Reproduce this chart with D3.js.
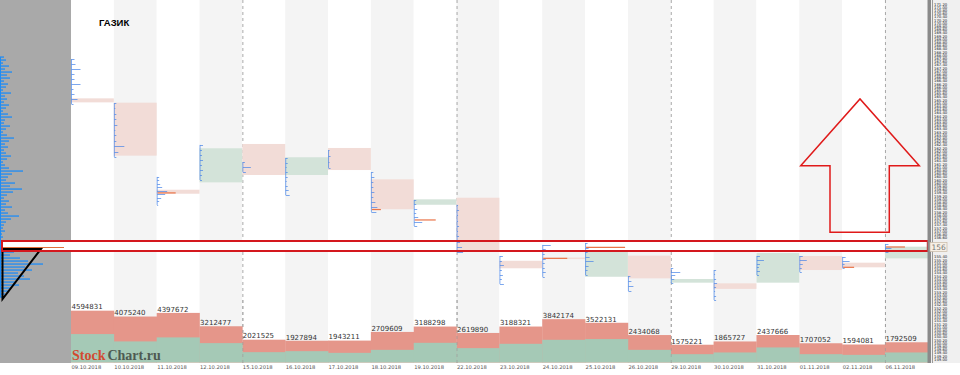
<!DOCTYPE html>
<html><head><meta charset="utf-8">
<script src="https://cdn.jsdelivr.net/npm/d3@7/dist/d3.min.js"></script>
<style>body{margin:0;background:#fff}svg{display:block}</style>
</head><body><svg id="c" width="960" height="375"></svg>
<script>
const dates = ["09.10.2018","10.10.2018","11.10.2018","12.10.2018","15.10.2018","16.10.2018","17.10.2018","18.10.2018","19.10.2018","22.10.2018","23.10.2018","24.10.2018","25.10.2018","26.10.2018","29.10.2018","30.10.2018","31.10.2018","01.11.2018","02.11.2018","06.11.2018"];
const volTotal = [4594831,4075240,4397672,3212477,2021525,1927894,1943211,2709609,3188298,2619890,3188321,3842174,3522131,2434068,1575221,1865727,2437666,1707052,1594081,1792509];
const volBuy = [2520000,1870000,2226000,1719000,917000,1006000,855000,1122000,1745000,1273000,1656000,2012000,2075000,1122000,739000,890000,1336000,739000,677000,890000];
const openP  = [165.29,165.02,159.58,160.04,162.44,160.50,162.19,160.23,158.64,159.08,155.14,155.34,154.14,155.46,153.77,153.73,153.77,155.44,155.02,155.29];
const closeP = [165.04,161.71,159.33,162.17,160.50,161.61,160.81,158.36,158.98,155.81,154.67,155.25,155.71,154.04,154.00,153.38,155.64,154.56,154.73,156.02];
const profHi = [167.75,165.00,160.38,162.38,161.31,161.56,162.06,160.69,158.94,158.63,155.44,156.13,156.25,154.19,154.69,154.56,155.44,155.44,155.38,156.19];
const profLo = [164.94,161.63,158.63,160.19,160.69,159.25,160.94,158.19,157.31,155.69,153.69,154.13,154.25,153.25,153.75,152.69,154.25,154.44,154.69,155.69];
const profVol = [
 [3,4,9,3,3,9,2,3,6,2],[2,1,2,2,3,1,2,2,10,4,2],[2,2,3,5,10,8,4,2,1],[3,2,2,3,2,3,2,2],[2,8,3],
 [2,2,1,2,2,1,2,3,4],[1,2,1,2],[2,3,2,2,3,2,4,6,5],[2,2,3,2,4,8,3],[1,2,1,1,2,1,2,3,5,6],
 [3,2,4,2,3,2,4],[8,3,2,3,2,2,3,2],[2,3,2,4,8,3,2,2],[2,3,5,3],[2,9,4,3,2],
 [2,1,2,3,2,1,2,2],[3,7,3,2,3,2],[3,7,3,2,2],[3,7,2,2],[3,6,3]];
const pocDay = [2,7,8,11,12,18,19];
const pocPrice = [159.38,158.34,157.69,155.29,155.98,154.73,156.0];
const pocVol = [18,9,21,24,39,11,19];
const leftHi = 167.875, leftLo = 152.875;
const leftVol = [4,6,3,9,5,12,7,10,4,8,6,3,11,5,7,4,9,6,3,8,12,5,4,10,6,3,7,14,9,5,8,4,6,11,7,3,5,9,23,12,8,6,15,10,22,13,7,4,9,6,12,5,8,19,11,6,4,3,5,2,3,0,0,0,0,14,10,20,28,43,25,32,18,24,30,15,19,11,8,5,2];
const leftPoc = 155.97, leftPocVol = 61;
const title = "ГАЗИК";
const lastPrice = "156";

const svg = d3.select("#c");
const plotL = 71, plotR = 927.8, plotBottom = 363;
const x = d3.scaleBand().domain(dates).range([plotL, plotR]).padding(0);
const yP = d3.scaleLinear().domain([148.75, 171.4375]).range([363, 0]);
const yV = d3.scaleLinear().domain([0, 5000000]).range([362.5, 306.1]);
const xProf = d3.scaleLinear().domain([0, 10]).range([0, 10]);
const xLeft = d3.scaleLinear().domain([0, 10]).range([0, 10]);

// column backgrounds
svg.append("g").selectAll("rect").data(dates).join("rect")
  .attr("x", d => x(d)).attr("y", 0).attr("width", x.bandwidth()).attr("height", plotBottom)
  .attr("fill", (d, i) => i % 2 ? "#f4f4f4" : "#ffffff");

// left gray panel
svg.append("rect").attr("x", 0).attr("y", 0).attr("width", plotL).attr("height", plotBottom).attr("fill", "#a9a9a9");
const leftY = d3.scaleLinear().domain([0, leftVol.length - 1]).range([leftHi, leftLo]);
svg.append("g").selectAll("rect").data(leftVol).join("rect")
  .attr("x", 0).attr("y", (d, i) => yP(leftY(i)) - 0.6).attr("height", 1.3)
  .attr("width", d => xLeft(d)).attr("fill", "#1e8cf5");
svg.append("line").attr("x1", 0.5).attr("x2", 0.5).attr("y1", yP(leftHi)).attr("y2", yP(leftLo))
  .attr("stroke", "#1e8cf5").attr("stroke-width", 1);

// week separators
const weekStarts = ["15.10.2018","22.10.2018","29.10.2018","06.11.2018"];
svg.append("g").selectAll("line").data(weekStarts).join("line")
  .attr("x1", d => x(d) + 0.5).attr("x2", d => x(d) + 0.5).attr("y1", 0).attr("y2", plotBottom)
  .attr("stroke", "#a8a8a8").attr("stroke-dasharray", "3,3");

// highlight zone fill
const zoneTop = 156.375, zoneBot = 155.75;
svg.append("rect").attr("x", 2).attr("y", yP(zoneTop)).attr("width", plotR - 2).attr("height", yP(zoneBot) - yP(zoneTop))
  .attr("fill", "#ffffff");

// candle boxes
svg.append("g").selectAll("rect").data(dates).join("rect")
  .attr("x", d => x(d)).attr("width", x.bandwidth())
  .attr("y", (d, i) => yP(Math.max(openP[i], closeP[i])))
  .attr("height", (d, i) => Math.max(1.5, Math.abs(yP(openP[i]) - yP(closeP[i]))))
  .attr("fill", (d, i) => closeP[i] >= openP[i] ? "#d3e3d9" : "#f2dcd7");

// day profiles
const pg = svg.append("g").attr("stroke", "#4a86e8").attr("stroke-width", 0.9).attr("stroke-opacity", 0.8);
dates.forEach((d, i) => {
  const x0 = x(d) + 0.5;
  pg.append("line").attr("x1", x0).attr("x2", x0).attr("y1", yP(profHi[i])).attr("y2", yP(profLo[i]));
  const sy = d3.scaleLinear().domain([0, profVol[i].length - 1]).range([profHi[i], profLo[i]]);
  pg.selectAll(null).data(profVol[i]).join("line")
    .attr("x1", x0).attr("x2", (v) => x0 + xProf(v))
    .attr("y1", (v, k) => Math.round(yP(sy(k))) + 0.5).attr("y2", (v, k) => Math.round(yP(sy(k))) + 0.5);
});

// POC lines
svg.append("g").selectAll("line").data(pocDay).join("line")
  .attr("x1", d => x(dates[d]) + 1).attr("x2", (d, i) => x(dates[d]) + 1 + xProf(pocVol[i]))
  .attr("y1", (d, i) => yP(pocPrice[i])).attr("y2", (d, i) => yP(pocPrice[i]))
  .attr("stroke", "#ea7448").attr("stroke-width", 1.2);
svg.append("line").attr("x1", 3).attr("x2", 3 + xLeft(leftPocVol)).attr("y1", yP(leftPoc)).attr("y2", yP(leftPoc))
  .attr("stroke", "#e0703a").attr("stroke-width", 1.2);

// black triangle
const triP = [[2.5, 155.88], [41, 155.88], [2.5, 152.75]];
svg.append("path").attr("d", d3.line().x(p => p[0]).y(p => yP(p[1]))(triP) + "Z")
  .attr("fill", "none").attr("stroke", "#000").attr("stroke-width", 2);

// highlight zone stroke
svg.append("rect").attr("x", 2).attr("y", yP(zoneTop)).attr("width", plotR - 2).attr("height", yP(zoneBot) - yP(zoneTop))
  .attr("fill", "none").attr("stroke", "#d4181e").attr("stroke-width", 2);

// red arrow (x in px of the drawing object, y in price units)
const arrow = [[800.7,161.08],[860,165.25],[919.3,161.08],[889.3,161.08],[889.3,156.92],[830,156.92],[830,161.08]];
svg.append("path").attr("d", d3.line().x(p => p[0]).y(p => yP(p[1]))(arrow) + "Z")
  .attr("fill", "none").attr("stroke", "#e01a1a").attr("stroke-width", 1.5);

// volume bars
svg.append("g").selectAll("rect").data(dates).join("rect")
  .attr("x", d => x(d)).attr("width", x.bandwidth() + 0.3)
  .attr("y", (d, i) => yV(volTotal[i])).attr("height", (d, i) => yV(0) - yV(volTotal[i]))
  .attr("fill", "#e5968a");
svg.append("g").selectAll("rect").data(dates).join("rect")
  .attr("x", d => x(d)).attr("width", x.bandwidth() + 0.3)
  .attr("y", (d, i) => yV(volBuy[i])).attr("height", (d, i) => yV(0) - yV(volBuy[i]))
  .attr("fill", "#a5c9b6");
svg.append("g").selectAll("line").data(weekStarts).join("line")
  .attr("x1", d => x(d) + 0.5).attr("x2", d => x(d) + 0.5).attr("y1", 300).attr("y2", plotBottom)
  .attr("stroke", "#9a9a9a").attr("stroke-dasharray", "3,3").attr("stroke-opacity", 0.6);

// volume labels
svg.append("g").selectAll("text").data(dates).join("text")
  .attr("x", d => x(d) + 0.5).attr("y", (d, i) => yV(volTotal[i]) - 1.2)
  .attr("font-family", "DejaVu Sans").attr("font-size", 7).attr("fill", "#333")
  .text((d, i) => volTotal[i]);

// watermark
const wm = svg.append("text").attr("x", 72).attr("y", 360).attr("font-family", "Liberation Serif").attr("font-weight", "bold").attr("font-size", 14);
wm.append("tspan").attr("fill", "#d24a30").text("Stock");
wm.append("tspan").attr("dx", 2).attr("fill", "#4e5a52").text("Chart.ru");

// date axis
const xAxis = svg.append("g").attr("transform", `translate(0,${plotBottom})`)
  .call(d3.axisBottom(x).tickSize(0).tickPadding(0));
xAxis.select(".domain").remove();
xAxis.selectAll("text").attr("text-anchor", "start").attr("dx", -x.bandwidth() / 2 + 0.5).attr("dy", 5.5)
  .attr("font-family", "DejaVu Sans").attr("font-size", 5.2).attr("fill", "#555");

// title
svg.append("text").attr("x", 99).attr("y", 26).attr("font-family", "Liberation Sans").attr("font-weight", "bold")
  .attr("font-size", 9.5).attr("fill", "#000").text(title);

// right price axis
svg.append("rect").attr("x", 927.5).attr("y", 0).attr("width", 3.5).attr("height", plotBottom).attr("fill", "#8a8a8a");
svg.append("rect").attr("x", 931).attr("y", 0).attr("width", 29).attr("height", plotBottom).attr("fill", "#f0f0f0");
svg.append("line").attr("x1", 932.5).attr("x2", 932.5).attr("y1", 0).attr("y2", plotBottom).attr("stroke", "#9a9a9a");
const markY = yP(156);
const ticksR = yP.ticks(110).filter(t => Math.abs(yP(t) - markY) > 6.5 && yP(t) > 2.5 && yP(t) < 361);
const yAx = svg.append("g").attr("transform", "translate(933,0)")
  .call(d3.axisRight(yP).tickValues(ticksR).tickSize(0).tickPadding(1).tickFormat(d3.format(".2f")));
yAx.select(".domain").remove();
yAx.selectAll("text").attr("font-family", "DejaVu Sans").attr("font-size", 3.8).attr("fill", "#222");

// last price marker
svg.append("rect").attr("x", 930).attr("y", markY - 4.5).attr("width", 17).attr("height", 9)
  .attr("fill", "#f7f0e6").attr("stroke", "#c8b8a4").attr("stroke-width", 0.7);
svg.append("text").attr("x", 931.5).attr("y", markY + 3).attr("font-family", "DejaVu Sans").attr("font-size", 7.5)
  .attr("fill", "#777").text(lastPrice);
</script></body></html>
